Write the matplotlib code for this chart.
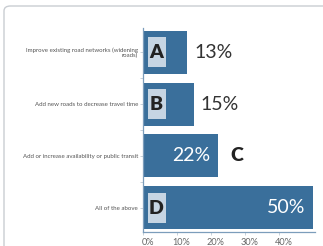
import matplotlib
matplotlib.use("Agg")
import matplotlib.pyplot as plt
import matplotlib.transforms as mtransforms
from matplotlib.patches import FancyBboxPatch, Rectangle

categories = ["Improve existing road networks (widening\nroads)",
              "Add new roads to decrease travel time",
              "Add or increase availability or public transit",
              "All of the above"]
letters = ["A", "B", "C", "D"]
values = [13, 15, 22, 50]
value_labels = ["13%", "15%", "22%", "50%"]
label_inside = [False, False, True, True]
letter_boxed = [True, True, False, True]
xticks = [0, 10, 20, 30, 40]
xticklabels = ["0%", "10%", "20%", "30%", "40%"]

W, H = 323, 246
fig = plt.figure(figsize=(W / 100, H / 100), dpi=100)
fig.patch.set_facecolor("white")

# rounded frame (top-left corner visible only)
frame = FancyBboxPatch((4 / W, -0.3), 1.2, 1.3 - 6 / H,
                       boxstyle="round,pad=0,rounding_size=0.02",
                       transform=fig.transFigure, facecolor="none",
                       edgecolor="#c9cdd2", lw=1.0)
fig.patches.append(frame)

ax = fig.add_axes([143 / W, (H - 232) / H, 172 / W, 204 / H])
bar_color = "#3a6f9b"
y = list(range(len(categories)))
ax.barh(y, values, height=0.83, color=bar_color, edgecolor="none")
ax.set_ylim(3.47, -0.47)
ax.set_xlim(0, 50.7)

ax.set_yticks(y)
ax.set_yticklabels(categories, fontsize=4.4, color="#555555", family="Lato",
                   linespacing=1.0)
ax.set_yticks([0.5, 1.5, 2.5], minor=True)
ax.tick_params(axis="y", which="both", length=2, width=0.5, color="#b0bfcc", pad=1.5)
ax.set_xticks(xticks)
ax.set_xticklabels(xticklabels, fontsize=6.6, color="#666666", family="Lato")
ax.tick_params(axis="x", length=2, width=0.5, color="#b0bfcc", pad=2)
offset = mtransforms.ScaledTranslation(0.046, 0, fig.dpi_scale_trans)
for lab in ax.get_xticklabels():
    lab.set_transform(lab.get_transform() + offset)

for s in ["top", "right"]:
    ax.spines[s].set_visible(False)
for s in ["left", "bottom"]:
    ax.spines[s].set_color("#7c9dbb")
    ax.spines[s].set_linewidth(0.9)

px = 50.7 / 172.0   # data units per horizontal pixel
py = 3.94 / 204.0   # data units per vertical pixel
for i, (v, lab, inside, boxed, let) in enumerate(zip(values, value_labels, label_inside,
                                                      letter_boxed, letters)):
    if inside:
        ax.text(v - 7 * px, i, lab, ha="right", va="center", fontsize=14,
                color="white", family="Lato")
    else:
        ax.text(v + 7 * px, i, lab, ha="left", va="center", fontsize=14,
                color="#333333", family="Lato")
    if boxed:
        ax.add_patch(Rectangle((4.5 * px, i - 15 * py), 18 * px, 30 * py,
                               facecolor="#c6d5e3", edgecolor="none", zorder=3))
        ax.text(13.5 * px, i + 0.5 * py, let, ha="center", va="center", fontsize=14,
                fontweight="heavy", color="#222222", family="Lato", zorder=4)
    else:
        ax.text(v + 19.5 * px, i, let, ha="center", va="center", fontsize=14,
                fontweight="heavy", color="#222222", family="Lato")

fig.savefig("out.png", dpi=100)
